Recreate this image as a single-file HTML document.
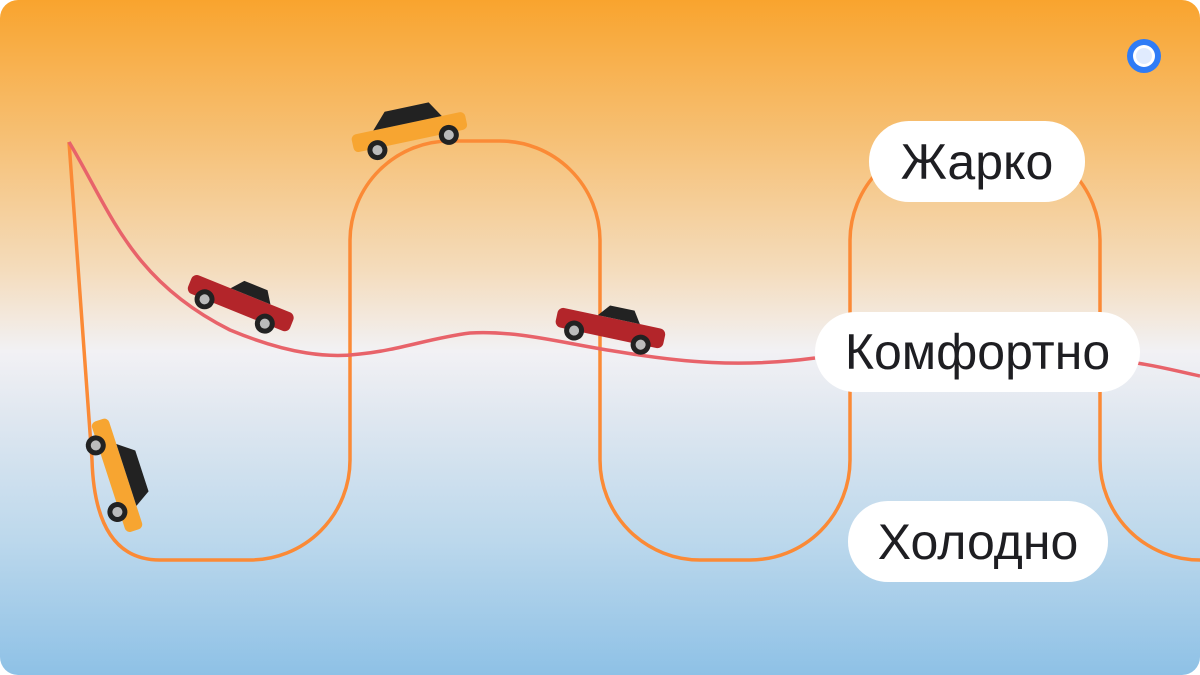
<!DOCTYPE html>
<html><head><meta charset="utf-8"><style>
html,body{margin:0;padding:0;background:#fff;}
.wrap{position:relative;width:1200px;height:675px;border-radius:18px;overflow:hidden;
background:linear-gradient(180deg,#f9a42e 0%,#f6c27a 22%,#f4dcbc 40%,#f2f1f4 52%,#dfe7f0 62%,#bcd8ec 80%,#8ec1e6 100%);}
.pill{position:absolute;background:#fff;border-radius:40px;font-family:"Liberation Sans",sans-serif;font-size:50px;color:#1e1e22;display:flex;align-items:center;justify-content:center;}
</style></head><body>
<div class="wrap">
<svg width="1200" height="675" style="position:absolute;left:0;top:0">
<path d="M69 142 L92 460 Q95 560 160 560 L250 560 A100 100 0 0 0 350 460 L350 240 A100 100 0 0 1 450 141 L500 141 A100 100 0 0 1 600 240 L600 460 A100 100 0 0 0 700 560 L750 560 A100 100 0 0 0 850 460 L850 240 A100 100 0 0 1 950 141 L1000 141 A100 100 0 0 1 1100 240 L1100 460 A100 100 0 0 0 1200 560" fill="none" stroke="#fb8a36" stroke-width="3.5"/>
<path d="M69 142 C110 210 130 280 230 330 C290 355 330 358 360 354 C400 350 430 338 470 333 C520 330 570 345 620 352 C680 362 740 368 815 358 M1130 362 C1160 366 1180 372 1200 376" fill="none" stroke="#e8636a" stroke-width="3.5"/>
<g transform="translate(410,135) rotate(-12)">
<rect x="-58" y="-12" width="116" height="18" rx="5" fill="#f7a531"/>
<path d="M-35 -12 L-20 -28 L25 -28 L35 -12Z" fill="#222"/>
<circle cx="-35" cy="8" r="10" fill="#222"/><circle cx="-35" cy="8" r="5" fill="#bbb"/>
<circle cx="38" cy="8" r="10" fill="#222"/><circle cx="38" cy="8" r="5" fill="#bbb"/>
</g>
<g transform="translate(240,305) rotate(22)">
<rect x="-55" y="-12" width="110" height="20" rx="6" fill="#b3252a"/>
<path d="M-15 -12 L-5 -24 L20 -24 L28 -12Z" fill="#222"/>
<circle cx="-35" cy="8" r="10" fill="#222"/><circle cx="-35" cy="8" r="5" fill="#bbb"/>
<circle cx="30" cy="8" r="10" fill="#222"/><circle cx="30" cy="8" r="5" fill="#bbb"/>
</g>
<g transform="translate(610,330) rotate(12)">
<rect x="-55" y="-12" width="110" height="20" rx="6" fill="#b3252a"/>
<path d="M-15 -12 L-5 -24 L20 -24 L28 -12Z" fill="#222"/>
<circle cx="-35" cy="8" r="10" fill="#222"/><circle cx="-35" cy="8" r="5" fill="#bbb"/>
<circle cx="33" cy="8" r="10" fill="#222"/><circle cx="33" cy="8" r="5" fill="#bbb"/>
</g>
<g transform="translate(118,475) rotate(72)">
<rect x="-58" y="-8" width="116" height="18" rx="5" fill="#f7a531"/>
<path d="M-30 -8 L-18 -24 L25 -24 L35 -8Z" fill="#222"/>
<circle cx="-35" cy="12" r="10" fill="#222"/><circle cx="-35" cy="12" r="5" fill="#bbb"/>
<circle cx="35" cy="12" r="10" fill="#222"/><circle cx="35" cy="12" r="5" fill="#bbb"/>
</g>
<circle cx="1144" cy="56" r="17" fill="#2f7cf6"/><circle cx="1144" cy="56" r="11" fill="#fff"/><circle cx="1144" cy="56" r="8" fill="#2f7cf6" opacity="0.15"/>
</svg>
<div class="pill" style="left:869px;top:121px;width:216px;height:81px">Жарко</div>
<div class="pill" style="left:815px;top:312px;width:325px;height:80px">Комфортно</div>
<div class="pill" style="left:848px;top:501px;width:260px;height:81px">Холодно</div>
</div>
</body></html>
